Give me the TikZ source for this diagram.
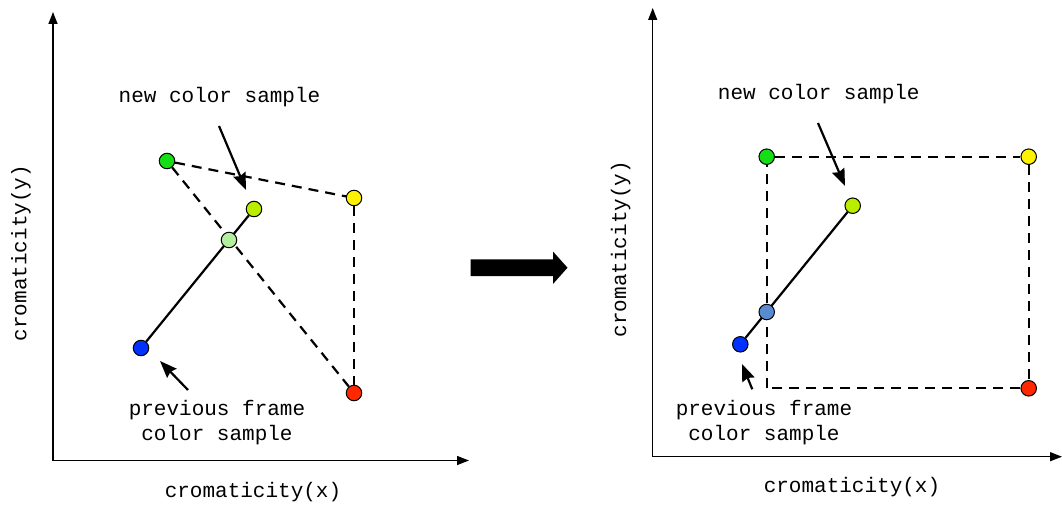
\documentclass[tikz,border=0pt]{standalone}
\usepackage{fontspec}
\newfontfamily\lblfont{Liberation Mono}
\usetikzlibrary{arrows.meta,backgrounds}

\definecolor{cGreen}{RGB}{20,222,20}
\definecolor{cYellow}{RGB}{255,242,0}
\definecolor{cLime}{RGB}{185,238,0}
\definecolor{cPale}{RGB}{178,240,160}
\definecolor{cBlue}{RGB}{0,50,255}
\definecolor{cRed}{RGB}{255,40,0}
\definecolor{cSteel}{RGB}{88,140,208}

\tikzset{
  sample/.style={circle,draw=black,line width=1pt,minimum size=15.5pt,inner sep=0pt},
  axis/.style={line width=1.4pt,-{Triangle[length=12pt,width=9pt]}},
  hull/.style={line width=2.2pt,dash pattern=on 10pt off 7pt},
  track/.style={line width=2.2pt},
  pointer/.style={line width=2.2pt,-{Stealth[length=17pt,width=13pt,inset=2pt]}},
  lbl/.style={font=\lblfont\fontsize{21}{25}\selectfont,inner sep=0pt,align=center}
}

\begin{document}
\begin{tikzpicture}[x=1pt,y=-1pt]
\useasboundingbox (0,0) rectangle (1062,505);

% ---------- left plot: samples before correction ----------
\coordinate (lo1) at (53,460.5);
\coordinate (ly1) at (53,12);
\coordinate (lx1) at (469,460.5);
\draw[axis] (lo1) -- (ly1);
\draw[axis] (lo1) -- (lx1);
\node[lbl,rotate=90] (ylab1) at (21,253) {cromaticity(y)};
\node[lbl] (xlab1) at (253,492) {cromaticity(x)};

\node[sample,fill=cGreen]  (g1) at (167,161) {};
\node[sample,fill=cYellow] (y1) at (354,198) {};
\node[sample,fill=cRed]    (r1) at (354,393) {};
\node[sample,fill=cLime]   (n1) at (254,209) {};
\node[sample,fill=cPale]   (m1) at (229,240) {};
\node[sample,fill=cBlue]   (b1) at (141,348) {};

\begin{scope}[on background layer]
  \draw[hull] (g1) -- (y1);
  \draw[hull] (y1) -- (r1);
  \draw[hull] (g1) -- (r1);
  \draw[track] (b1) -- (n1);
\end{scope}

\node[lbl] (new1) at (219.5,97) {new color sample};
\coordinate (new1t) at (219,126);
\coordinate (new1h) at (246,190);
\draw[pointer] (new1t) -- (new1h);

\node[lbl] (prev1) at (217,422.5) {previous frame\\color sample};
\coordinate (prev1t) at (188,390);
\coordinate (prev1h) at (160,361);
\draw[pointer] (prev1t) -- (prev1h);

% ---------- transition arrow ----------
\fill[black] (470.7,259.3) -- (553,259.3) -- (553,251.5) -- (567.5,267.7)
  -- (553,284) -- (553,276) -- (470.7,276) -- cycle;

% ---------- right plot: samples after correction ----------
\coordinate (lo2) at (652.7,456.7);
\coordinate (ly2) at (652.7,8);
\coordinate (lx2) at (1062,456.7);
\draw[axis] (lo2) -- (ly2);
\draw[axis] (lo2) -- (lx2);
\node[lbl,rotate=90] (ylab2) at (620.7,249) {cromaticity(y)};
\node[lbl] (xlab2) at (852,487) {cromaticity(x)};

\node[sample,fill=cGreen]  (g2) at (766.7,156.7) {};
\node[sample,fill=cYellow] (y2) at (1028.7,156.7) {};
\node[sample,fill=cRed]    (r2) at (1028.7,388.3) {};
\coordinate (c2) at (766.7,388.3);
\node[sample,fill=cLime]   (n2) at (852.7,205.7) {};
\node[sample,fill=cSteel]  (m2) at (766.7,312) {};
\node[sample,fill=cBlue]   (b2) at (740.3,344.3) {};

\begin{scope}[on background layer]
  \draw[hull] (g2) -- (y2);
  \draw[hull] (y2) -- (r2);
  \draw[hull] (r2) -- (c2);
  \draw[hull] (c2) -- (g2);
  \draw[track] (b2) -- (n2);
\end{scope}

\node[lbl] (new2) at (818.8,94) {new color sample};
\coordinate (new2t) at (818,123);
\coordinate (new2h) at (845,186);
\draw[pointer] (new2t) -- (new2h);

\node[lbl] (prev2) at (764,422.5) {previous frame\\color sample};
\coordinate (prev2t) at (752.3,389.3);
\coordinate (prev2h) at (742,364);
\draw[pointer] (prev2t) -- (prev2h);
\end{tikzpicture}
\end{document}
